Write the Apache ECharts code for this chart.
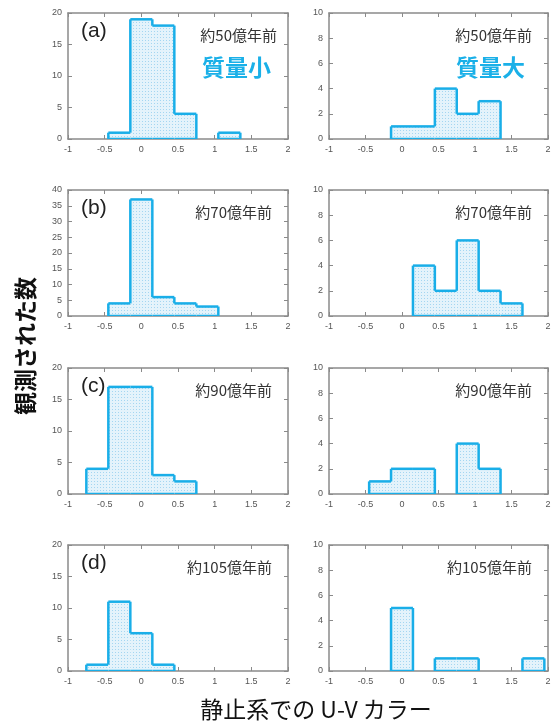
<!DOCTYPE html>
<html>
<head>
<meta charset="utf-8">
<script src="https://cdn.jsdelivr.net/npm/echarts@6/dist/echarts.min.js"></script>
<style>
  html, body { margin: 0; padding: 0; background: #fff; }
  #chart { width: 559px; height: 724px; }
</style>
</head>
<body>
<div id="chart"></div>
<script>
// Histogram bins: width 0.3 in U-V colour, centred on these values
const binCenters = [-0.6, -0.3, 0, 0.3, 0.6, 0.9, 1.2, 1.5, 1.8];
const binWidth = 0.3;

// Galaxy counts per bin (left column: low mass, right column: high mass)
const countsA_low  = [0, 1, 19, 18, 4, 0, 1, 0, 0];
const countsA_high = [0, 0, 1, 1, 4, 2, 3, 0, 0];
const countsB_low  = [0, 4, 37, 6, 4, 3, 0, 0, 0];
const countsB_high = [0, 0, 0, 4, 2, 6, 2, 1, 0];
const countsC_low  = [4, 17, 17, 3, 2, 0, 0, 0, 0];
const countsC_high = [0, 1, 2, 2, 0, 4, 2, 0, 0];
const countsD_low  = [1, 11, 6, 1, 0, 0, 0, 0, 0];
const countsD_high = [0, 0, 5, 0, 1, 1, 0, 0, 1];

const panelLetters = ['(a)', '(b)', '(c)', '(d)'];
const epochLabels = ['約50億年前', '約70億年前', '約90億年前', '約105億年前'];
const massLabels = ['質量小', '質量大'];

const xTicks = { min: -1, max: 2, interval: 0.5 };
const yLowMax = [20, 40, 20, 20];
const yLowStep = [5, 5, 5, 5];
const yHighMax = [10, 10, 10, 10];
const yHighStep = [2, 2, 2, 2];

const panels = [
  [countsA_low, countsA_high],
  [countsB_low, countsB_high],
  [countsC_low, countsC_high],
  [countsD_low, countsD_high]
];

// Layout
const rowTops = [13, 190, 368, 545];
const gridH = 126;
const colLeft = [68, 329];
const gridW = [220, 219];

const lineColor = '#19aee8';
const frameColor = '#8a8a8a';
const fontCJK = '"Noto Sans CJK JP", "Noto Sans", sans-serif';

// Dotted light-blue fill texture
const tex = document.createElement('canvas');
tex.width = 3; tex.height = 3;
(function () {
  const g = tex.getContext('2d');
  g.fillStyle = '#e4f3fb';
  g.fillRect(0, 0, 3, 3);
  g.fillStyle = '#a4d6f1';
  g.fillRect(1, 1, 1, 1);
})();
const fillPattern = { image: tex, repeat: 'repeat' };

function histData(counts) {
  const out = [];
  counts.forEach((v, i) => {
    if (v > 0) {
      const p = i > 0 ? counts[i - 1] : 0;
      const n = i < counts.length - 1 ? counts[i + 1] : 0;
      out.push([binCenters[i], v, p, n]);
    }
  });
  return out;
}

// Step-outline histogram bar: filled box, bottom/top edges, rising edge from
// the previous bin and a falling edge when the next bin is empty
function renderStep(params, api) {
  const c = api.value(0), v = api.value(1), p = api.value(2), n = api.value(3);
  const x0 = c - binWidth / 2, x1 = c + binWidth / 2;
  const bl = api.coord([x0, 0]);
  const tr = api.coord([x1, v]);
  const tl = api.coord([x0, v]);
  const br = api.coord([x1, 0]);
  const pl = api.coord([x0, p]);
  const ls = { stroke: lineColor, lineWidth: 2.5, fill: null };
  const children = [
    { type: 'rect', shape: { x: bl[0], y: tr[1], width: tr[0] - bl[0], height: bl[1] - tr[1] },
      style: { fill: fillPattern } },
    { type: 'line', shape: { x1: bl[0], y1: bl[1], x2: br[0], y2: br[1] }, style: ls },
    { type: 'line', shape: { x1: pl[0], y1: pl[1], x2: tl[0], y2: tl[1] }, style: ls },
    { type: 'line', shape: { x1: tl[0], y1: tl[1], x2: tr[0], y2: tr[1] }, style: ls }
  ];
  if (n === 0) {
    children.push({ type: 'line', shape: { x1: tr[0], y1: tr[1], x2: br[0], y2: br[1] }, style: ls });
  }
  return { type: 'group', children: children };
}

const grids = [], xAxes = [], yAxes = [], series = [], graphics = [];

const axisLabelStyle = { color: '#555', fontSize: 9, fontFamily: 'Liberation Sans, Arial, sans-serif' };

for (let r = 0; r < 4; r++) {
  for (let col = 0; col < 2; col++) {
    const gi = grids.length;
    grids.push({ left: colLeft[col], top: rowTops[r], width: gridW[col], height: gridH });
    const ymax = col === 0 ? yLowMax[r] : yHighMax[r];
    const ystep = col === 0 ? yLowStep[r] : yHighStep[r];
    const xBase = {
      gridIndex: gi, type: 'value', min: xTicks.min, max: xTicks.max, interval: xTicks.interval,
      axisLine: { show: true, onZero: false, lineStyle: { color: frameColor, width: 1.5 } },
      axisTick: { show: true, inside: true, length: 4, lineStyle: { color: frameColor, width: 1 } },
      splitLine: { show: false }
    };
    xAxes.push(Object.assign({}, xBase, {
      position: 'bottom',
      axisLabel: Object.assign({ margin: 6, showMinLabel: true, showMaxLabel: true }, axisLabelStyle)
    }));
    xAxes.push(Object.assign({}, xBase, { position: 'top', axisLabel: { show: false } }));
    const yBase = {
      gridIndex: gi, type: 'value', min: 0, max: ymax, interval: ystep,
      axisLine: { show: true, onZero: false, lineStyle: { color: frameColor, width: 1.5 } },
      axisTick: { show: true, inside: true, length: 4, lineStyle: { color: frameColor, width: 1 } },
      splitLine: { show: false }
    };
    yAxes.push(Object.assign({}, yBase, {
      position: 'left',
      axisLabel: Object.assign({ margin: 6 }, axisLabelStyle)
    }));
    yAxes.push(Object.assign({}, yBase, { position: 'right', axisLabel: { show: false } }));

    series.push({
      type: 'custom',
      xAxisIndex: gi * 2,
      yAxisIndex: gi * 2,
      clip: true,
      renderItem: renderStep,
      data: histData(panels[r][col]),
      silent: true
    });

    // Epoch label in each panel
    const right = colLeft[col] + gridW[col];
    graphics.push({
      type: 'text', right: 559 - right + (col === 0 ? (r === 0 ? 11 : 16) : 16), top: rowTops[r] + 15,
      style: { text: epochLabels[r], fill: '#333', font: '15px ' + fontCJK }
    });
    if (col === 0) {
      graphics.push({
        type: 'text', left: colLeft[0] + 13, top: rowTops[r] + 8,
        style: { text: panelLetters[r], fill: '#222', font: '21px "Liberation Sans", Arial, sans-serif' }
      });
    }
    if (r === 0) {
      graphics.push({
        type: 'text', right: 559 - right + (col === 0 ? 17 : 23), top: rowTops[0] + 43,
        style: { text: massLabels[col], fill: '#1ab0e8', font: 'bold 23px ' + fontCJK }
      });
    }
  }
}

// Axis titles
graphics.push({
  type: 'text', x: 25, y: 346, rotation: Math.PI / 2,
  style: { text: '観測された数', fill: '#111', font: 'bold 23px ' + fontCJK, align: 'center', verticalAlign: 'middle' }
});
graphics.push({
  type: 'text', x: 316, y: 709,
  style: { text: '静止系での U-V カラー', fill: '#111', font: '23px ' + fontCJK, align: 'center', verticalAlign: 'middle' }
});

const chart = echarts.init(document.getElementById('chart'), null, { renderer: 'canvas' });
chart.setOption({
  animation: false,
  backgroundColor: '#fff',
  grid: grids,
  xAxis: xAxes,
  yAxis: yAxes,
  series: series,
  graphic: graphics
});
</script>
</body>
</html>
